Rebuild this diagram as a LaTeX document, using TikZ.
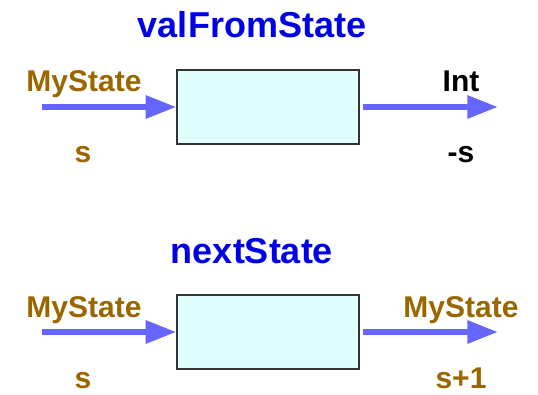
\documentclass[tikz,border=0pt]{standalone}
\usepackage{fontspec}
\setmainfont{Liberation Sans}
\usetikzlibrary{arrows.meta}
\definecolor{titleblue}{RGB}{0,0,230}
\definecolor{typebrown}{RGB}{153,102,0}
\definecolor{pipeblue}{RGB}{102,102,255}
\definecolor{boxcyan}{RGB}{223,255,255}
\tikzset{
  funbox/.style={draw=black!80, fill=boxcyan, minimum width=136.5pt,
    minimum height=55.5pt, inner sep=0pt, line width=0.9pt},
  fntitle/.style={anchor=base, text=titleblue, font=\bfseries\fontsize{27}{30}\selectfont},
  lbl/.style={anchor=base, inner sep=1pt, font=\bfseries\fontsize{22.5}{26}\selectfont},
  pipe/.style={draw=pipeblue, line width=4.5pt, -{Triangle[length=23pt,width=16.5pt]}}
}
\begin{document}
\begin{tikzpicture}[x=0.75pt,y=-0.75pt]
  \useasboundingbox (0,0) rectangle (538,395);

  \foreach \i/\y/\fname/\outtype/\outcol/\outval in
    {1/107/valFromState/Int/black/-s, 2/332/nextState/MyState/typebrown/s+1}{
    % Function box and its name
    \node[funbox] (box\i) at (268,\y) {};
    \node[fntitle] (name\i) at (252,\y-69) {\fname};

    % Input side
    \coordinate (in\i) at (42,\y);
    \draw[pipe] (in\i) -- (box\i.west);
    \node[lbl, text=typebrown] (intype\i) at (84,\y-15) {MyState};
    \node[lbl, text=typebrown] (inval\i) at (83,\y+56) {s};

    % Output side
    \coordinate (out\i) at (498,\y);
    \draw[pipe, shorten <=2.25pt] (box\i.east) -- (out\i);
    \node[lbl, text=\outcol] (outtype\i) at (461,\y-15) {\outtype};
    \node[lbl, text=\outcol] (outval\i) at (461,\y+56) {\outval};
  }
\end{tikzpicture}
\end{document}
